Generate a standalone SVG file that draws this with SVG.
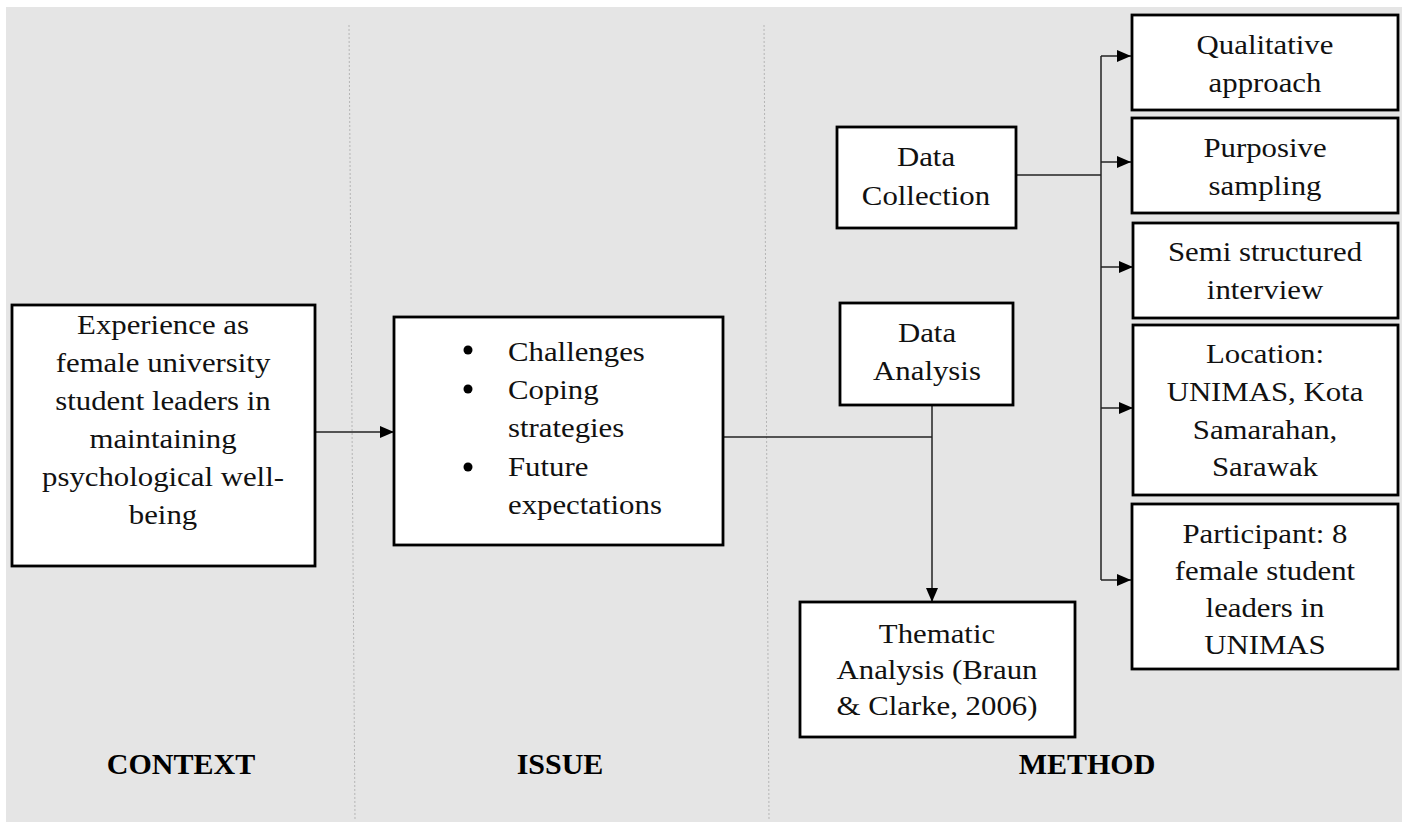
<svg xmlns="http://www.w3.org/2000/svg" width="1402" height="824" viewBox="0 0 1402 824">
<defs>
<marker id="arr" viewBox="0 0 14 12" refX="14" refY="6" markerWidth="14" markerHeight="12" markerUnits="userSpaceOnUse" orient="auto">
<path d="M0,0 L14,6 L0,12 Z" fill="#000"/>
</marker>
</defs>
<style>
.box{fill:#fff;stroke:#000;stroke-width:2.8}
.t{font-family:"Liberation Serif","Times New Roman",serif;font-size:28px;fill:#111}
.c{text-anchor:middle}
.lab{font-family:"Liberation Serif","Times New Roman",serif;font-size:30px;font-weight:bold;fill:#000;text-anchor:middle}
.ln{fill:none;stroke:#222;stroke-width:1.5}
.div{stroke:#b5b5b5;stroke-width:1;stroke-dasharray:2 2}
</style>
<rect x="0" y="0" width="1402" height="824" fill="#fff"/>
<rect x="6" y="7" width="1396" height="815" fill="#e5e5e5"/>
<g id="dividers">
<line class="div" x1="349" y1="25" x2="355" y2="820"/>
<line class="div" x1="764" y1="25" x2="769" y2="820"/>
</g>
<g id="connectors">
<line class="ln" x1="315" y1="432" x2="394" y2="432" marker-end="url(#arr)"/>
<line class="ln" x1="723" y1="437" x2="932" y2="437"/>
<line class="ln" x1="932" y1="405" x2="932" y2="602" marker-end="url(#arr)"/>
<line class="ln" x1="1016" y1="175" x2="1101" y2="175"/>
<line class="ln" x1="1101" y1="56" x2="1101" y2="580"/>
<line class="ln" x1="1101" y1="56" x2="1131" y2="56" marker-end="url(#arr)"/>
<line class="ln" x1="1101" y1="162" x2="1131" y2="162" marker-end="url(#arr)"/>
<line class="ln" x1="1101" y1="267" x2="1133" y2="267" marker-end="url(#arr)"/>
<line class="ln" x1="1101" y1="408" x2="1133" y2="408" marker-end="url(#arr)"/>
<line class="ln" x1="1101" y1="580" x2="1131" y2="580" marker-end="url(#arr)"/>
</g>
<g id="context">
<rect class="box" x="12" y="305" width="303" height="261"/>
<text class="t c" transform="matrix(1.1 0 0 1 -16.3 0)"><tspan x="163" y="334">Experience as</tspan><tspan x="163" y="372">female university</tspan><tspan x="163" y="410">student leaders in</tspan><tspan x="163" y="448">maintaining</tspan><tspan x="163" y="486">psychological well-</tspan><tspan x="163" y="524">being</tspan></text>
</g>
<g id="issue">
<rect class="box" x="394" y="317" width="329" height="228"/>
<circle cx="468" cy="350" r="4.5" fill="#000"/>
<circle cx="468" cy="389" r="4.5" fill="#000"/>
<circle cx="468" cy="467" r="4.5" fill="#000"/>
<text class="t" transform="matrix(1.1 0 0 1 -50.8 0)"><tspan x="508" y="361">Challenges</tspan><tspan x="508" y="399">Coping</tspan><tspan x="508" y="437">strategies</tspan><tspan x="508" y="476">Future</tspan><tspan x="508" y="514">expectations</tspan></text>
</g>
<g id="data-collection">
<rect class="box" x="837" y="127" width="179" height="101"/>
<text class="t c" transform="matrix(1.1 0 0 1 -92.6 0)"><tspan x="926" y="166">Data</tspan><tspan x="926" y="205">Collection</tspan></text>
</g>
<g id="data-analysis">
<rect class="box" x="840" y="303" width="173" height="102"/>
<text class="t c" transform="matrix(1.1 0 0 1 -92.7 0)"><tspan x="927" y="342">Data</tspan><tspan x="927" y="380">Analysis</tspan></text>
</g>
<g id="thematic">
<rect class="box" x="800" y="602" width="275" height="135"/>
<text class="t c" transform="matrix(1.1 0 0 1 -93.7 0)"><tspan x="937" y="643">Thematic</tspan><tspan x="937" y="679">Analysis (Braun</tspan><tspan x="937" y="715">&amp; Clarke, 2006)</tspan></text>
</g>
<g id="qualitative">
<rect class="box" x="1132" y="15" width="266" height="95"/>
<text class="t c" transform="matrix(1.1 0 0 1 -126.5 0)"><tspan x="1265" y="54">Qualitative</tspan><tspan x="1265" y="92">approach</tspan></text>
</g>
<g id="purposive">
<rect class="box" x="1132" y="118" width="266" height="95"/>
<text class="t c" transform="matrix(1.1 0 0 1 -126.5 0)"><tspan x="1265" y="157">Purposive</tspan><tspan x="1265" y="195">sampling</tspan></text>
</g>
<g id="semi">
<rect class="box" x="1133" y="223" width="265" height="95"/>
<text class="t c" transform="matrix(1.1 0 0 1 -126.5 0)"><tspan x="1265" y="261">Semi structured</tspan><tspan x="1265" y="299">interview</tspan></text>
</g>
<g id="location">
<rect class="box" x="1133" y="325" width="265" height="170"/>
<text class="t c" transform="matrix(1.1 0 0 1 -126.5 0)"><tspan x="1265" y="363">Location:</tspan><tspan x="1265" y="401">UNIMAS, Kota</tspan><tspan x="1265" y="439">Samarahan,</tspan><tspan x="1265" y="476">Sarawak</tspan></text>
</g>
<g id="participant">
<rect class="box" x="1132" y="504" width="266" height="165"/>
<text class="t c" transform="matrix(1.1 0 0 1 -126.5 0)"><tspan x="1265" y="543">Participant: 8</tspan><tspan x="1265" y="580">female student</tspan><tspan x="1265" y="617">leaders in</tspan><tspan x="1265" y="654">UNIMAS</tspan></text>
</g>
<g id="labels">
<text class="lab" x="181" y="774">CONTEXT</text>
<text class="lab" x="560" y="774">ISSUE</text>
<text class="lab" x="1087" y="774">METHOD</text>
</g>
</svg>
